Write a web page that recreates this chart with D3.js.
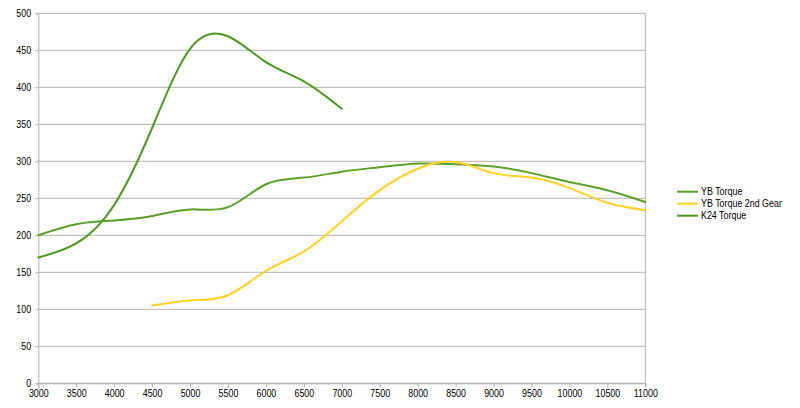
<!DOCTYPE html>
<html><head><meta charset="utf-8">
<script src="https://cdn.jsdelivr.net/npm/d3@7"></script>
<style>body{margin:0;background:#fff}svg{display:block}text{font-family:"Liberation Sans",Arial,sans-serif}</style>
</head><body><svg id="c" width="800" height="408"></svg>
<script>
const rpm = [3000,3500,4000,4500,5000,5500,6000,6500,7000,7500,8000,8500,9000,9500,10000,10500,11000];
const ybTorque = [200,215,220,226,235,238,269,278,286,292,297,296,293,284,272,261,245];
const ybTorque2nd = [null,null,null,105,112,119,152,178,219,261,290,299,284,278,264,244,234];
const k24Torque = [170,189,241,345,452,469,434,408,371,null,null,null,null,null,null,null,null];
const seriesNames = ["YB Torque","YB Torque 2nd Gear","K24 Torque"];
const seriesColors = ["#5ca02a","#ffd320","#4f991d"];
const xTicks = d3.range(3000, 11001, 500);
const yTicks = d3.range(0, 501, 50);

const svg = d3.select("#c");
const L = 38.3, R = 645.3, T = 13.3, B = 383.3;
const SX = 0.89;
const x = d3.scaleLinear().domain([3000, 11000]).range([L, R]);
const y = d3.scaleLinear().domain([0, 500]).range([B, T]);

// grid
svg.append("g").selectAll("line").data(yTicks).join("line")
  .attr("x1", L).attr("x2", R).attr("y1", d => y(d)).attr("y2", d => y(d))
  .attr("stroke", "#b3b3b3").attr("stroke-width", 1);
svg.append("line").attr("x1", R).attr("x2", R).attr("y1", T).attr("y2", B).attr("stroke", "#b3b3b3");

const yAxis = svg.append("g").attr("transform", `translate(${L},0)`)
  .call(d3.axisLeft(y).tickValues(yTicks).tickSize(3).tickPadding(5));
const xAxis = svg.append("g").attr("transform", `translate(0,${B})`)
  .call(d3.axisBottom(x).tickValues(xTicks).tickSize(4).tickPadding(3).tickFormat(d3.format("d")));
[yAxis, xAxis].forEach(a => {
  a.selectAll("path,line").attr("stroke", "#b3b3b3");
  a.selectAll("text").attr("fill", "#000").style("font-size", "10px")
    .style("font-family", '"Liberation Sans",Arial,sans-serif')
    .attr("transform", `scale(${SX},1)`);
});

const series = [ybTorque, ybTorque2nd, k24Torque];
const line = d3.line().x(d => x(d[0])).y(d => y(d[1])).curve(d3.curveNatural);
series.forEach((vals, i) => {
  const pts = rpm.map((r, j) => [r, vals[j]]).filter(d => d[1] != null);
  svg.append("path").datum(pts).attr("d", line)
    .attr("fill", "none").attr("stroke", seriesColors[i]).attr("stroke-width", 2)
    .attr("stroke-linejoin", "round").attr("stroke-linecap", "round");
});

// legend
const lg = svg.append("g");
seriesNames.forEach((n, i) => {
  const cy = 191.7 + i * 12;
  lg.append("line").attr("x1", 677).attr("x2", 698).attr("y1", cy).attr("y2", cy)
    .attr("stroke", seriesColors[i]).attr("stroke-width", 2);
  lg.append("text").attr("transform", `translate(701,${cy}) scale(${SX},1)`).attr("dy", "0.35em")
    .style("font-size", "10px").attr("fill", "#000").text(n);
});
</script></body></html>
